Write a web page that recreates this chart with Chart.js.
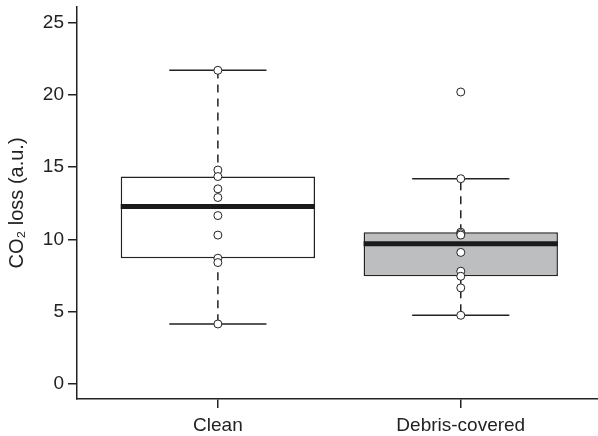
<!DOCTYPE html>
<html lang="en">
<head>
  <meta charset="UTF-8" />
  <title>CO2 loss boxplot</title>
  <script src="https://cdn.jsdelivr.net/npm/chart.js"></script>
  <style>
    body { margin: 0; background: #fff; }
  </style>
</head>
<body>
  <canvas id="boxChart" width="598" height="436"></canvas>

  <script>
    // values
    const categories = ['Clean', 'Debris-covered'];
    const cleanValues = [21.7, 14.8, 14.35, 13.5, 12.9, 11.65, 10.3, 8.7, 8.4, 4.15];
    const debrisValues = [20.2, 14.2, 10.5, 10.4, 10.3, 9.1, 7.8, 7.45, 6.65, 4.75];
    const yTicks = [0, 5, 10, 15, 20, 25];

    const groups = [cleanValues, debrisValues];
    const boxFills = ['#ffffff', '#bdbec0'];
    const ink = '#222';
    const BOX_HALF = 0.4;
    const CAP_HALF = 0.2;

    // R style fivenum + 1.5 IQR whiskers
    function boxStats(arr) {
      const x = [...arr].sort((a, b) => a - b);
      const n = x.length;
      const n4 = Math.floor((n + 3) / 2) / 2;
      const d = [1, n4, (n + 1) / 2, n + 1 - n4, n];
      const f = d.map(i => 0.5 * (x[Math.floor(i) - 1] + x[Math.ceil(i) - 1]));
      const iqr = f[3] - f[1];
      const lo = Math.min(...x.filter(v => v >= f[1] - 1.5 * iqr));
      const hi = Math.max(...x.filter(v => v <= f[3] + 1.5 * iqr));
      return { q1: f[1], med: f[2], q3: f[3], lo, hi };
    }

    const stats = groups.map(boxStats);

    const datasets = [];

    // raw points on top
    datasets.push({
      type: 'scatter',
      data: groups.flatMap((g, i) => g.map(v => ({ x: i + 1, y: v }))),
      pointRadius: 4,
      pointBorderWidth: 1,
      pointBackgroundColor: '#fff',
      pointBorderColor: ink,
      order: 0
    });

    stats.forEach((s, i) => {
      const x = i + 1;
      // median
      datasets.push({
        type: 'line',
        data: [{ x: x - BOX_HALF, y: s.med }, { x: x + BOX_HALF, y: s.med }],
        borderColor: '#1a1a1a',
        borderWidth: 5,
        borderCapStyle: 'butt',
        pointRadius: 0,
        order: 1
      });
      // dashed whiskers
      datasets.push({
        type: 'line',
        data: [{ x: x, y: s.q3 }, { x: x, y: s.hi }, { x: x, y: null }, { x: x, y: s.q1 }, { x: x, y: s.lo }],
        borderColor: ink,
        borderWidth: 1.5,
        borderDash: [8, 6],
        spanGaps: false,
        pointRadius: 0,
        order: 2
      });
      // caps
      datasets.push({
        type: 'line',
        data: [{ x: x - CAP_HALF, y: s.hi }, { x: x + CAP_HALF, y: s.hi }, { x: x, y: null },
               { x: x - CAP_HALF, y: s.lo }, { x: x + CAP_HALF, y: s.lo }],
        borderColor: ink,
        borderWidth: 1.5,
        spanGaps: false,
        pointRadius: 0,
        order: 2
      });
    });

    // boxes
    datasets.push({
      type: 'bar',
      data: stats.map((s, i) => ({ x: i + 1, y: [s.q1, s.q3] })),
      backgroundColor: boxFills,
      borderColor: ink,
      borderWidth: 1.5,
      borderSkipped: false,
      barPercentage: 0.8,
      categoryPercentage: 1,
      order: 3
    });

    const tickFont = { family: '"Liberation Sans", Arial, sans-serif', size: 19 };

    new Chart(document.getElementById('boxChart'), {
      type: 'scatter',
      data: { datasets },
      options: {
        responsive: false,
        animation: false,
        layout: { autoPadding: false, padding: { top: 7, right: 0, bottom: 0, left: 0 } },
        plugins: { legend: { display: false }, tooltip: { enabled: false } },
        scales: {
          x: {
            type: 'linear',
            min: 0.42,
            max: 2.565,
            offset: false,
            afterBuildTicks: scale => { scale.ticks = categories.map((c, i) => ({ value: i + 1 })); },
            afterFit: scale => {
              scale.height = 37;
              scale.paddingLeft = 0;
              scale.paddingRight = 0;
            },
            ticks: {
              callback: (v) => categories[Math.round(v) - 1],
              color: ink,
              font: tickFont,
              padding: 6,
              maxRotation: 0,
              autoSkip: false
            },
            grid: { offset: false, drawOnChartArea: false, tickLength: 9, color: ink, lineWidth: 1.5 },
            border: { display: true, color: ink, width: 1.5 }
          },
          y: {
            min: -1.04,
            max: 26.08,
            afterBuildTicks: scale => { scale.ticks = yTicks.map(v => ({ value: v })); },
            afterFit: scale => {
              scale.width = 77;
              scale.paddingTop = 0;
              scale.paddingBottom = 0;
            },
            ticks: { color: ink, font: tickFont, padding: 4 },
            grid: { drawOnChartArea: false, tickLength: 9, color: ink, lineWidth: 1.5 },
            border: { display: true, color: ink, width: 1.5 },
            title: {
              display: true,
              text: 'CO\u2082 loss (a.u.)',
              color: ink,
              font: { family: '"Liberation Sans", Arial, sans-serif', size: 20 },
              padding: { top: 5, bottom: 0 }
            }
          }
        }
      }
    });
  </script>
</body>
</html>
